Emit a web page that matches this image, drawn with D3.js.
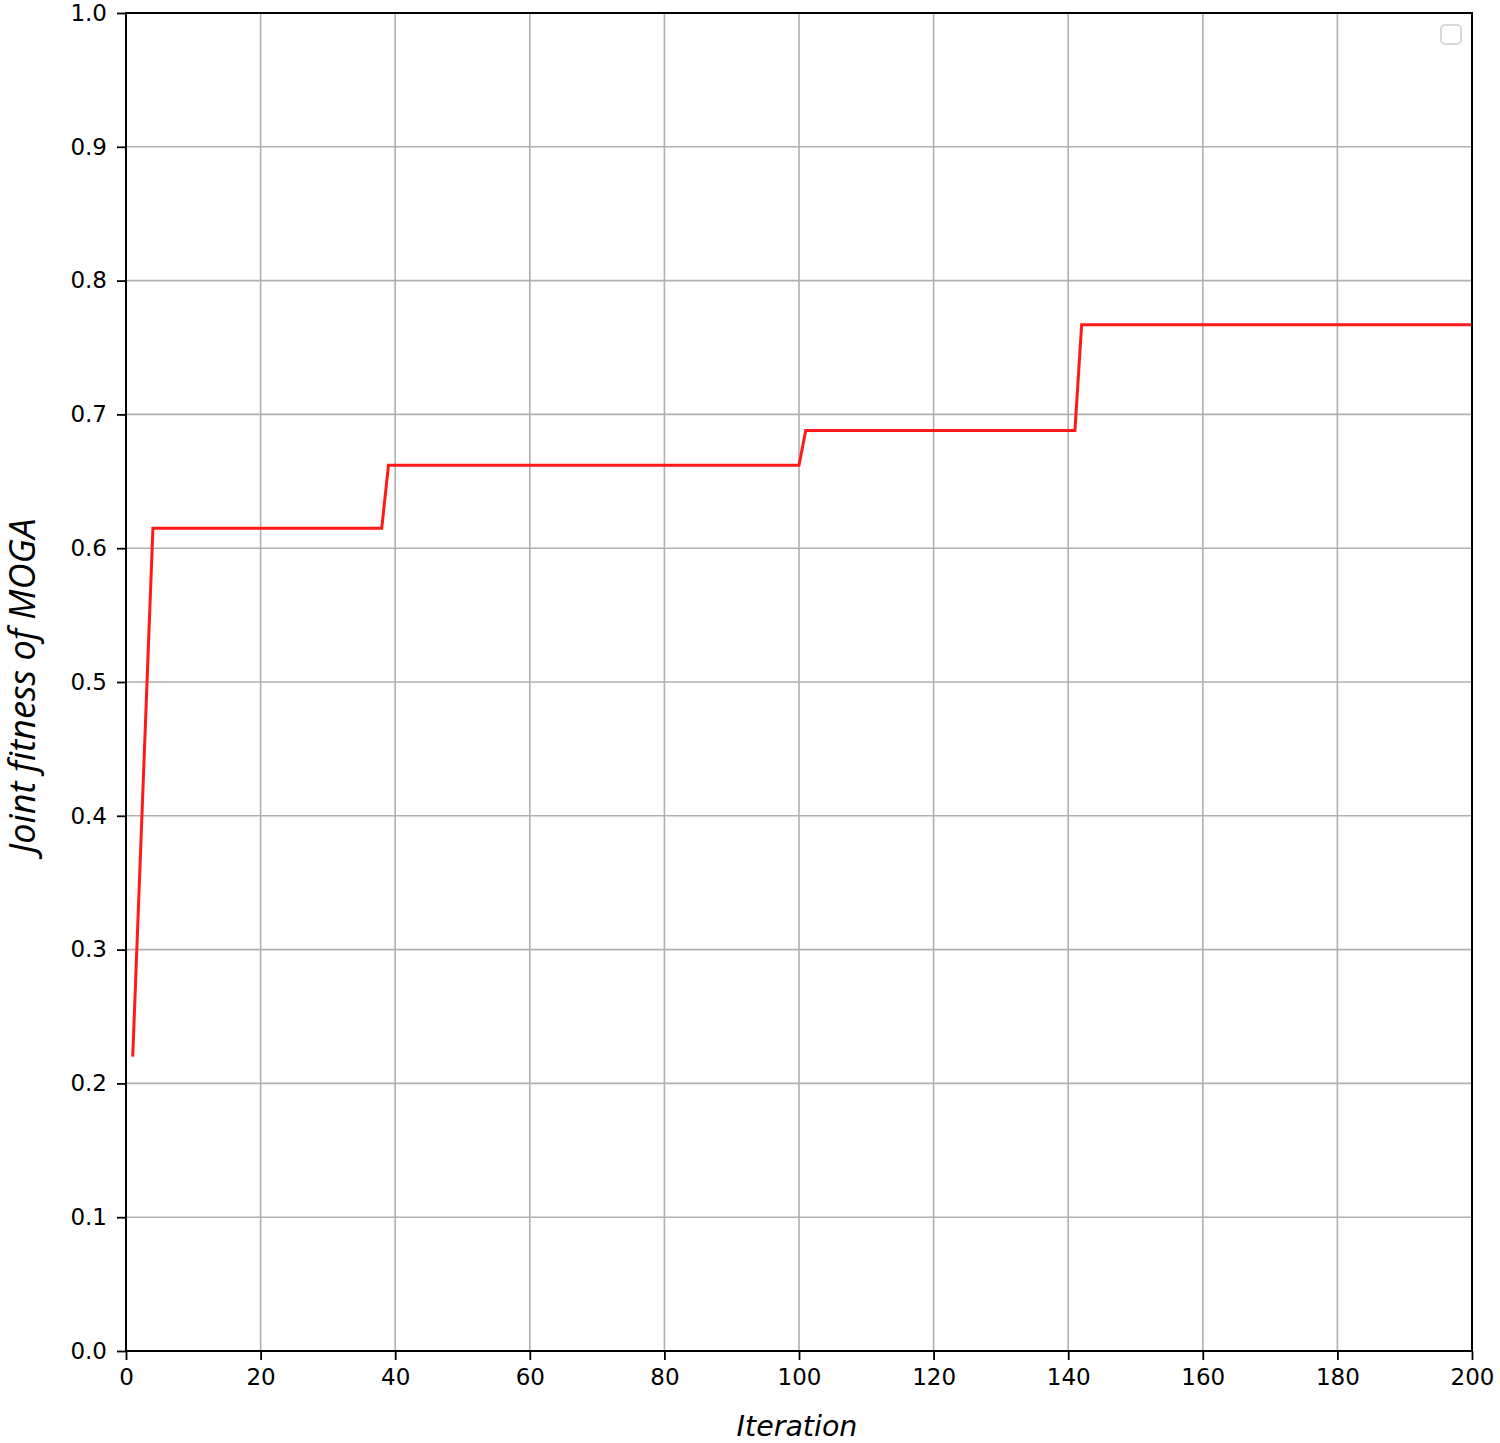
<!DOCTYPE html>
<html><head><meta charset="utf-8">
<script src="https://cdn.jsdelivr.net/npm/d3@7"></script>
<style>body{margin:0;background:#fff}</style>
</head><body>
<svg id="c" width="1500" height="1443"></svg>
<script>
const iterations = [1, 4, 38, 39, 100, 101, 141, 142, 200];
const fitness = [0.220, 0.615, 0.615, 0.662, 0.662, 0.688, 0.688, 0.767, 0.767];
const xTicks = [0, 20, 40, 60, 80, 100, 120, 140, 160, 180, 200];
const yTicks = [0.0, 0.1, 0.2, 0.3, 0.4, 0.5, 0.6, 0.7, 0.8, 0.9, 1.0];

const svg = d3.select('#c');
const L = 126, R = 1472, T = 13, B = 1351;
const x = d3.scaleLinear().domain([0, 200]).range([L, R]);
const y = d3.scaleLinear().domain([0, 1]).range([B, T]);
const font = 'DejaVu Sans';

// grid
svg.append('g').selectAll('line').data(xTicks).join('line')
  .attr('x1', d => x(d)).attr('x2', d => x(d)).attr('y1', T).attr('y2', B)
  .attr('stroke', '#b0b0b0').attr('stroke-width', 1.6);
svg.append('g').selectAll('line').data(yTicks).join('line')
  .attr('y1', d => y(d)).attr('y2', d => y(d)).attr('x1', L).attr('x2', R)
  .attr('stroke', '#b0b0b0').attr('stroke-width', 1.6);

// line
svg.append('path').datum(iterations.map((d, i) => [d, fitness[i]]))
  .attr('d', d3.line().x(d => x(d[0])).y(d => y(d[1])))
  .attr('fill', 'none').attr('stroke', '#ff1a1a').attr('stroke-width', 3);

// axes
const xAxis = svg.append('g').attr('transform', `translate(0,${B})`)
  .call(d3.axisBottom(x).tickValues(xTicks).tickSize(9).tickPadding(9).tickFormat(d3.format('d')));
const yAxis = svg.append('g').attr('transform', `translate(${L},0)`)
  .call(d3.axisLeft(y).tickValues(yTicks).tickSize(9).tickPadding(10).tickFormat(d3.format('.1f')));
[xAxis, yAxis].forEach(a => {
  a.select('.domain').remove();
  a.selectAll('line').attr('stroke', '#000').attr('stroke-width', 1.8);
  a.selectAll('text').attr('font-family', font).attr('font-size', 23).attr('fill', '#000');
});

// frame
svg.append('rect').attr('x', L).attr('y', T).attr('width', R - L).attr('height', B - T)
  .attr('fill', 'none').attr('stroke', '#000').attr('stroke-width', 2);

// empty legend box
svg.append('rect').attr('x', 1441).attr('y', 25).attr('width', 20).attr('height', 19)
  .attr('rx', 4).attr('fill', '#fff').attr('stroke', '#d8d8d8').attr('stroke-width', 2);

// labels
svg.append('text').attr('x', 797).attr('y', 1436).attr('text-anchor', 'middle')
  .attr('font-family', font).attr('font-style', 'italic').attr('font-size', 28.5).text('Iteration');
const yl = svg.append('text').attr('transform', `translate(35,686) rotate(-90)`).attr('text-anchor', 'middle')
  .attr('font-family', 'Open Sans').attr('font-style', 'italic').attr('font-size', 30).text('Joint fitness of MOGA');
const len = yl.node().getComputedTextLength();
yl.attr('font-size', 30 * 335 / len);
</script>
</body></html>
